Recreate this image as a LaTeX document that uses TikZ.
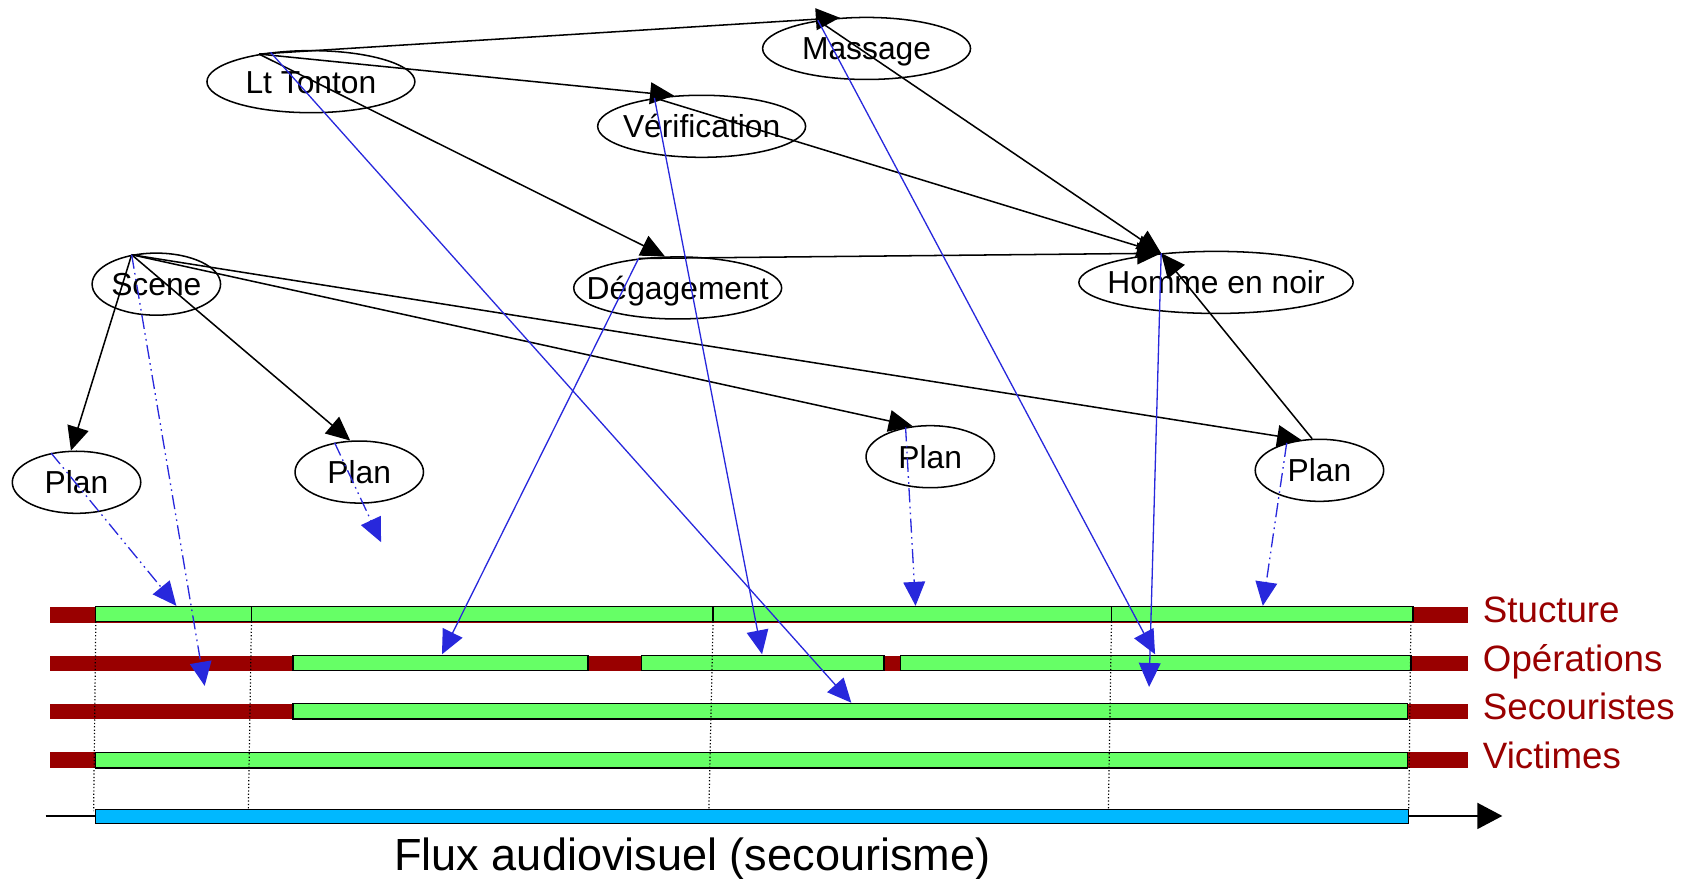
\documentclass[tikz,border=0pt]{standalone}
\usepackage{fontspec}
\setmainfont{Liberation Sans}
\usepackage{tikz}
\usetikzlibrary{shapes.geometric, positioning, arrows.meta, calc}

\definecolor{barred}{RGB}{153,0,0}
\definecolor{bargreen}{RGB}{102,255,102}
\definecolor{flowblue}{RGB}{0,184,255}
\definecolor{linkblue}{RGB}{40,40,220}

\newcommand{\evtname}[1]{\makebox[0pt]{#1}}

\begin{document}
\begin{tikzpicture}[x=1pt, y=-1pt,
    evt/.style={ellipse, draw, line width=1.4pt, inner sep=0pt, minimum height=57pt,
        text height=21pt, text depth=0pt, font=\fontsize{29.2}{35}\selectfont},
    blk/.style={-{Triangle[length=22pt,width=20pt]}, line width=1.4pt},
    blu/.style={-{Triangle[length=22pt,width=20pt]}, draw=linkblue, line width=1.2pt},
    bludash/.style={blu, dash pattern=on 13pt off 4pt on 1.5pt off 4pt on 1.5pt off 4pt},
    seg/.style={draw, fill=bargreen, line width=1.2pt},
    track/.style={text=barred, anchor=base west, inner sep=0pt, font=\fontsize{33.7}{40}\selectfont}]
    \useasboundingbox (0,0) rectangle (1568,807);

    % tracks
    \foreach \y in {565,609.5,653.3,698.2}
        \fill[barred] (46,\y-7) rectangle (1348,\y+7);
    \draw[seg] (88,557) rectangle (231,571) (231,557) rectangle (655,571)
        (655,557) rectangle (1021,571) (1021,557) rectangle (1298,571);
    \draw[seg] (269,602) rectangle (540,616) (589,602) rectangle (812,616)
        (827,602) rectangle (1296,616);
    \draw[seg] (269,646) rectangle (1293,660.5);
    \draw[seg] (88,691) rectangle (1293,705.5);
    \draw[dotted, line width=1.1pt] (88,571) -- (86,745) (231,571) -- (228,750)
        (655,571) -- (651,750) (1021,571) -- (1018,750) (1296,571) -- (1294,744);

    % time axis
    \coordinate (axs) at (42,749.5);
    \coordinate (axe) at (1380,749.5);
    \draw[-{Triangle[length=23pt,width=24pt]}, line width=1.3pt] (axs) -- (axe);
    \draw[fill=flowblue, line width=1.2pt] (88,743.5) rectangle (1294,756.3);

    \node[track] (lstruct) at (1362,572) {Stucture};
    \node[track] (lops) at (1362,617) {Opérations};
    \node[track] (lsec) at (1362,660.5) {Secouristes};
    \node[track] (lvic) at (1362,705.5) {Victimes};
    \node[anchor=base, inner sep=0pt, font=\fontsize{41.4}{48}\selectfont] (flux) at (636,800)
        {Flux audiovisuel (secourisme)};

    % events
    \node[evt, minimum width=191pt] (lt) at (285.6,75) {\evtname{Lt Tonton}};
    \node[evt, minimum width=191pt] (massage) at (796,44.5) {\evtname{Massage}};
    \node[evt, minimum width=191pt] (verif) at (644.5,116) {\evtname{Vérification}};
    \node[evt, minimum width=191pt] (degag) at (622.5,264.5) {\evtname{Dégagement}};
    \node[evt, minimum width=252pt] (homme) at (1117,259.4) {\evtname{Homme en noir}};
    \node[evt, minimum width=118pt] (scene) at (143.6,261) {\evtname{Scene}};
    \node[evt, minimum width=118pt] (plan1) at (70.3,443) {\evtname{Plan}};
    \node[evt, minimum width=118pt] (plan2) at (330,433.6) {\evtname{Plan}};
    \node[evt, minimum width=118pt] (plan3) at (854.5,419.5) {\evtname{Plan}};
    \node[evt, minimum width=118pt] (plan4) at (1212,432) {\evtname{Plan}};

    \coordinate (secA) at (782,645.5);
    \coordinate (opsA) at (406,601);
    \coordinate (opsB) at (700,601);
    \coordinate (opsC) at (1061,601);
    \coordinate (gapA) at (1055.5,631);
    \coordinate (gapB) at (188,630);
    \coordinate (gapC) at (350,498);
    \coordinate (strA) at (162,556.5);
    \coordinate (strB) at (841,556.5);
    \coordinate (strC) at (1160,556.5);

    \path[blk] (lt.152) edge (massage.131) edge (verif.132) edge (degag.112);
    \path[blk] (massage.150) edge (homme.152)
        (verif.149) edge (homme.152)
        (degag.143) edge (homme.152)
        (plan4.103) edge (homme.152);
    \path[blk] (scene.130) edge (plan1.100) edge (plan2.106) edge (plan3.120) edge (plan4.121);

    % links to the tracks
    \draw[blu] (lt.144) -- (secA);
    \draw[blu] (massage.150) -- (opsC);
    \draw[blu] (verif.149) -- (opsB);
    \draw[blu] (degag.143) -- (opsA);
    \draw[blu] (homme.152) -- (gapA);
    \draw[bludash] (scene.130) -- (gapB);
    \draw[bludash] (plan1.131) -- (strA);
    \draw[bludash] (plan2.130) -- (gapC);
    \draw[bludash] (plan3.130) -- (strB);
    \draw[bludash] (plan4.140) -- (strC);
\end{tikzpicture}
\end{document}
